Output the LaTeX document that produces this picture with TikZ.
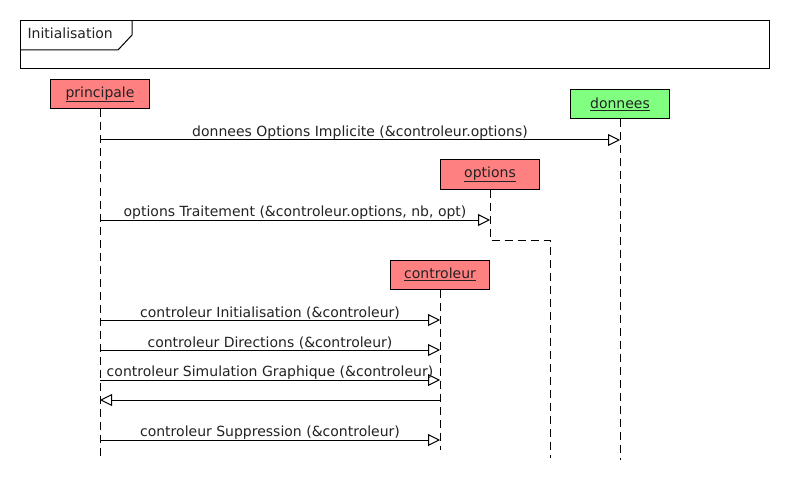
\documentclass[tikz,border=0pt]{standalone}
\usepackage{fontspec}
\setmainfont{DejaVu Sans}
\usepackage{xcolor}
\usetikzlibrary{arrows.meta,positioning,calc}

\definecolor{objred}{HTML}{FF8080}
\definecolor{objgreen}{HTML}{80FF80}
\definecolor{inktext}{HTML}{222222}

\begin{document}
\begin{tikzpicture}[x=1pt,y=-1pt,line width=1pt,
    object/.style={draw=black,minimum width=99pt,minimum height=29pt,
      inner sep=0pt,font=\fontsize{14}{16}\selectfont,text=inktext},
    lifeline/.style={dash pattern=on 8pt off 5pt},
    msg/.style={-{Triangle[open,length=12pt,width=12pt,fill=white]}},
    msglabel/.style={above,inner sep=0pt,font=\fontsize{14}{16}\selectfont,text=inktext}
  ]
    \useasboundingbox (0,0) rectangle (790,500);
    % cadre
    \draw (20,20.5) rectangle (769,68.5);
    \draw (20,50) -- (118,50) -- (132,35) -- (132,20.5);
    \node[anchor=west,inner sep=0pt,font=\fontsize{14}{16}\selectfont,text=inktext] (frametitle) at (27,33) {Initialisation};
    % objets
    \node[object,fill=objred] (principale) at (100,94.5) {\underline{principale}};
    \node[object,fill=objgreen] (donnees) at (620,104.5) {\underline{donnees}};
    \node[object,fill=objred] (options) at (490,174.5) {\underline{options}};
    \node[object,fill=objred] (controleur) at (440,274.5) {\underline{controleur}};
    \coordinate (principale-end) at (100,460);
    \coordinate (donnees-end) at (620,460);
    \coordinate (options-end) at (550,458);
    \coordinate (controleur-end) at (440,450);
    % lignes de vie
    \draw[lifeline] (principale) -- (principale-end);
    \draw[lifeline] (donnees) -- (donnees-end);
    \draw[lifeline] (options) -- (options |- 0,240) -| (options-end);
    \draw[lifeline] (controleur) -- (controleur-end);
    % messages
    \draw[msg] (principale |- 0,140) -- node[msglabel]{donnees Options Implicite (\&controleur.options)} (donnees |- 0,140);
    \draw[msg] (principale |- 0,220) -- node[msglabel]{options Traitement (\&controleur.options, nb, opt)} (options |- 0,220);
    \draw[msg] (principale |- 0,320) -- node[msglabel]{controleur Initialisation (\&controleur)} (controleur |- 0,320);
    \draw[msg] (principale |- 0,350) -- node[msglabel]{controleur Directions (\&controleur)} (controleur |- 0,350);
    \draw[msg] (principale |- 0,380) -- node[msglabel]{controleur Simulation Graphique (\&controleur)} (controleur |- 0,380);
    \draw[msg] (controleur |- 0,400) -- (principale |- 0,400);
    \draw[msg] (principale |- 0,440) -- node[msglabel]{controleur Suppression (\&controleur)} (controleur |- 0,440);
\end{tikzpicture}
\end{document}
